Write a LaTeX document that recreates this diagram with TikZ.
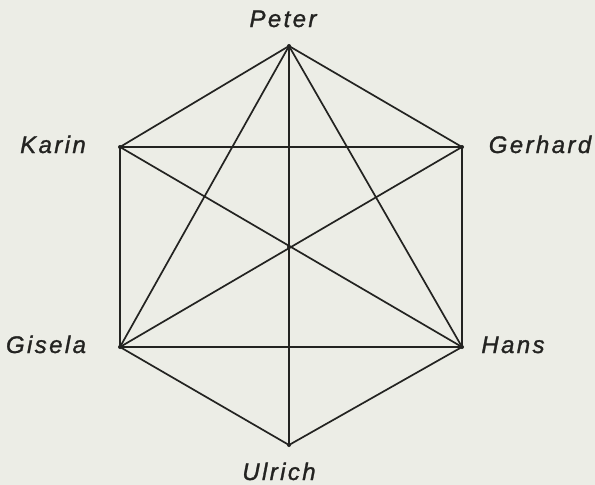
\documentclass[tikz,border=0pt]{standalone}
\usepackage{fontspec}
\setmainfont{Liberation Sans}
\newfontfamily\lblfont[LetterSpace=10,FakeBold=1.2]{Liberation Sans}
\definecolor{paper}{RGB}{236,237,230}
\definecolor{ink}{RGB}{35,35,33}
\begin{document}
\begin{tikzpicture}[x=1pt,y=-1pt,
  vtx/.style={circle,fill=ink,inner sep=0pt,minimum size=4pt},
  lbl/.style={anchor=base,inner sep=0pt,text=ink,font=\lblfont\itshape\fontsize{24}{24}\selectfont},
  edge/.style={draw=ink,line width=1.7pt,line join=round}]
\fill[paper] (0,0) rectangle (595,485);
\useasboundingbox (0,0) rectangle (595,485);
\node[vtx] (P) at (289,46) {};
\node[vtx] (K) at (120,147) {};
\node[vtx] (G) at (462,147) {};
\node[vtx] (Gi) at (120,347) {};
\node[vtx] (H) at (462,347) {};
\node[vtx] (U) at (289,445) {};
\node[vtx] (C) at (289,247) {};
\node[lbl] (lP) at (283,27) {Peter};
\node[lbl] (lK) at (53,153) {Karin};
\node[lbl] (lG) at (540,153) {Gerhard};
\node[lbl] (lGi) at (46,353) {Gisela};
\node[lbl] (lH) at (513,353) {Hans};
\node[lbl] (lU) at (279,480) {Ulrich};
\draw[edge] (P.center) -- (G.center) -- (H.center) -- (U.center) -- (Gi.center) -- (K.center) -- cycle;
\draw[edge] (K.center) -- (G.center);
\draw[edge] (Gi.center) -- (H.center);
\draw[edge] (P.center) -- (Gi.center);
\draw[edge] (P.center) -- (H.center);
\draw[edge] (P.center) -- (U.center);
\draw[edge] (K.center) -- (H.center);
\draw[edge] (G.center) -- (Gi.center);
\end{tikzpicture}
\end{document}
